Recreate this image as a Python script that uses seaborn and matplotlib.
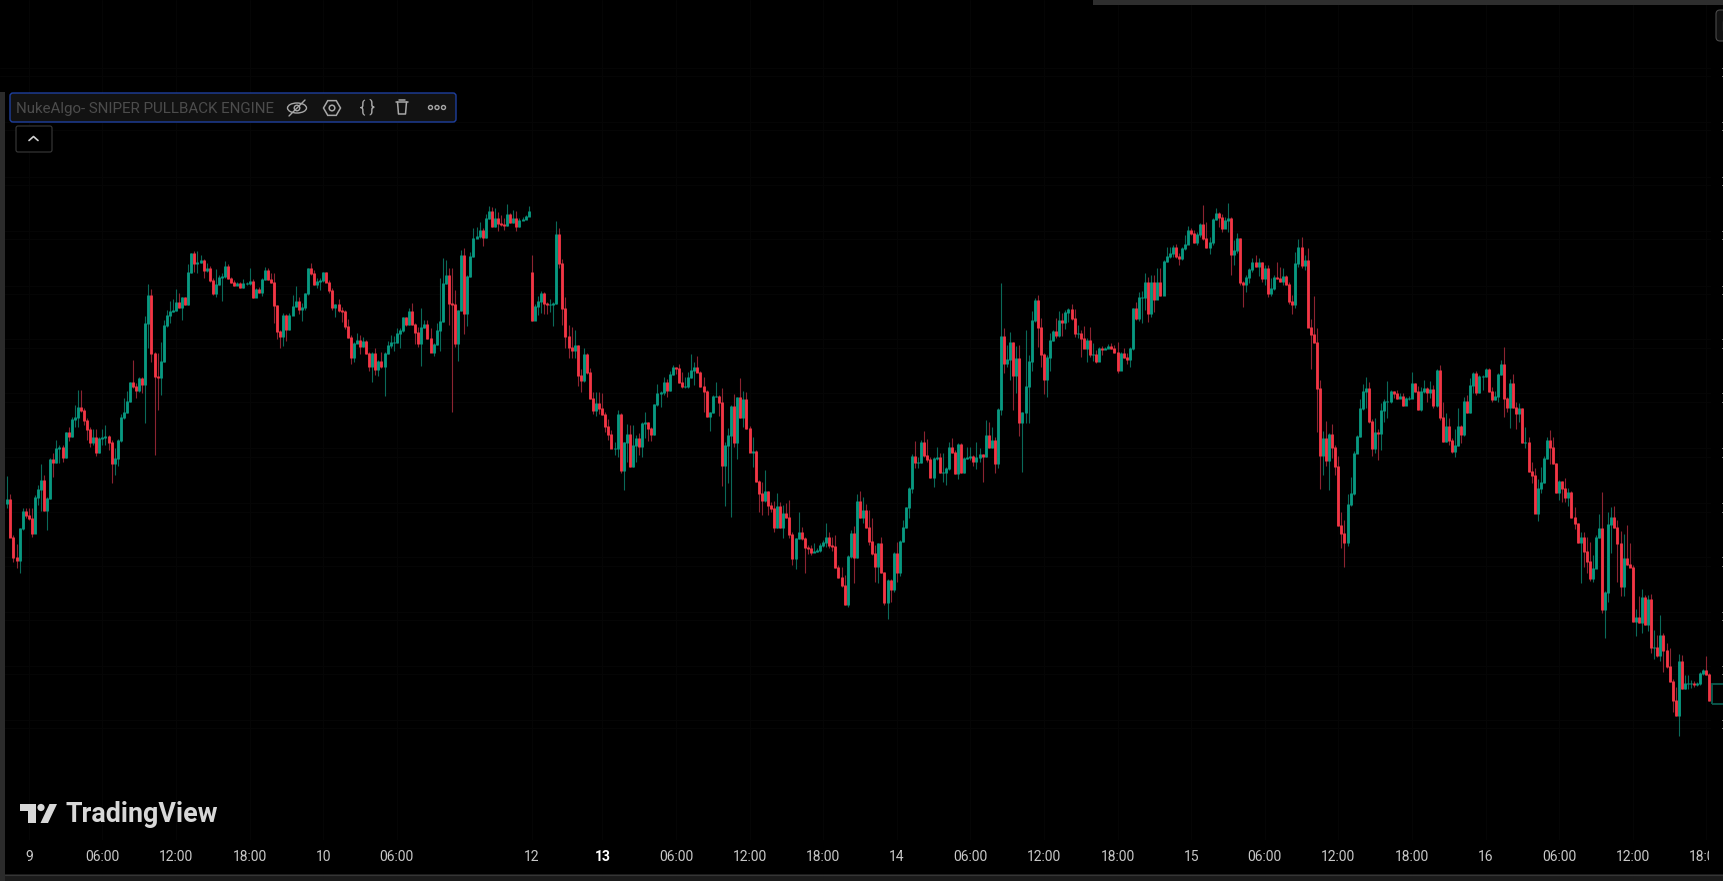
import numpy as np
import pandas as pd
import matplotlib
matplotlib.use("Agg")
import matplotlib.pyplot as plt
from matplotlib.patches import Rectangle, FancyBboxPatch, Polygon, Circle, Ellipse, RegularPolygon
from matplotlib.transforms import Bbox
import seaborn as sns

# 15 minute candles, in price units of the hidden scale.
# the session break after 12 splits them in two.
open_a = 497
closes_a = [
    501,463,443,440,472,489,485,482,467,503,511,520,490,502,541,538,552,553,543,568,564,581,583,593,
    590,580,571,558,563,548,562,563,564,558,537,542,560,583,588,599,618,614,610,622,616,677,705,647,
    624,623,639,675,685,689,690,698,693,703,696,728,747,737,738,740,730,732,720,707,716,723,724,734,
    722,718,715,717,713,717,717,719,703,711,708,721,730,721,718,695,669,664,685,671,685,694,699,691,
    693,707,732,727,716,719,720,728,718,710,693,696,690,689,674,663,643,657,660,654,659,647,634,647,
    631,639,634,647,655,658,658,667,670,683,676,689,676,668,657,673,676,662,648,656,670,679,717,725,
    697,696,657,690,745,687,724,744,762,764,770,763,782,789,774,782,777,776,775,786,778,782,774,780,
    781,784,789,
]
highs_a = [
    524,506,465,456,472,492,492,492,492,505,515,536,525,503,542,547,560,555,555,568,573,583,595,610,
    610,592,582,573,571,571,563,571,575,565,560,552,561,586,602,609,618,640,617,623,623,684,716,711,
    648,647,658,680,690,699,701,711,707,703,703,736,747,749,749,745,741,737,734,722,731,725,727,739,
    736,723,720,718,718,721,718,732,721,712,713,722,733,732,727,727,695,670,687,686,687,705,714,703,
    697,707,732,737,730,722,722,728,728,720,712,696,701,693,690,681,665,658,667,665,663,660,648,648,
    652,640,648,648,659,665,664,672,672,683,683,692,697,677,673,692,680,680,672,657,677,722,742,740,
    732,732,710,690,750,752,725,748,772,773,778,772,786,794,793,792,788,785,782,796,787,790,789,782,
    783,785,794,
]
lows_a = [
    492,463,438,432,427,470,482,480,463,467,495,489,489,470,501,523,537,537,538,542,559,563,573,573,
    588,575,560,553,555,544,547,555,555,550,517,525,534,558,581,587,598,612,602,608,607,577,652,638,
    545,590,605,638,673,677,688,689,692,680,695,695,727,728,727,737,722,728,718,705,703,715,699,722,
    721,717,714,715,712,712,715,715,702,703,707,704,720,720,717,677,661,652,654,659,670,685,693,686,
    679,690,705,725,715,712,710,718,718,707,690,683,688,678,671,662,636,638,658,646,653,646,629,618,
    625,624,632,604,646,652,649,657,652,668,674,675,675,656,653,634,672,661,648,644,655,649,678,716,
    675,588,653,639,689,666,674,723,743,762,762,754,762,781,773,773,769,774,770,774,777,777,769,773,
    780,782,784,
]

open_b = 728
closes_b = [
    680,694,699,707,697,696,696,697,766,737,692,664,653,650,655,625,620,646,628,602,590,597,592,586,
    574,566,552,552,586,530,558,566,534,555,562,554,577,578,572,566,596,607,608,618,610,626,633,632,
    618,614,614,623,630,633,628,614,609,584,588,604,604,598,535,555,565,594,558,603,583,601,572,548,
    549,519,507,500,509,495,492,473,494,473,487,483,466,442,462,468,462,453,452,448,449,450,455,458,
    463,455,454,433,423,415,396,444,467,443,499,483,490,473,459,447,434,457,428,398,420,411,
    447,428,459,473,493,512,544,538,538,558,545,541,523,542,543,528,528,532,553,548,527,556,528,542,543,544,
    539,543,546,544,565,553,560,537,591,664,637,641,658,625,642,578,588,614,639,680,700,673,646,621,
    643,660,669,665,680,678,688,691,682,667,667,662,652,660,646,646,639,652,651,652,654,652,648,630,
    647,643,641,652,692,682,703,703,718,687,718,701,718,705,739,744,747,753,744,742,752,756,770,767,
    758,766,776,762,753,758,781,787,783,772,780,782,746,750,762,718,716,723,731,738,734,738,722,732,
    707,712,723,722,719,724,716,699,696,737,753,735,740,673,666,658,612,545,562,540,566,553,534,475,
    467,458,496,507,547,564,592,609,612,579,552,568,567,590,599,599,609,607,602,604,595,602,602,617,
    609,591,609,612,608,611,595,630,583,559,574,560,549,555,574,566,599,588,615,627,608,624,624,631,
    609,601,604,626,636,602,593,617,593,587,592,558,558,529,525,487,512,518,542,560,553,537,508,519,
    512,503,508,483,477,458,463,449,439,422,432,463,472,391,408,476,483,473,457,414,442,436,433,379,
    383,378,403,376,401,353,353,345,365,350,334,319,300,285,339,312,317,317,317,316,317,327,330,326,
    300,
]
highs_b = [
    745,696,704,709,708,698,701,698,779,772,741,703,675,673,670,655,631,652,647,632,608,608,608,607,
    588,581,570,558,590,587,558,576,575,575,565,567,578,588,578,573,596,616,609,623,621,629,635,633,
    636,628,623,628,646,638,644,629,623,610,588,605,618,605,612,558,572,595,606,603,622,609,608,574,
    563,550,520,518,530,508,498,499,507,498,495,497,500,468,462,488,473,463,455,455,457,452,457,460,
    477,468,463,465,435,433,425,445,470,474,506,509,503,496,490,482,455,457,463,427,421,421,
    448,458,460,480,493,513,546,559,543,560,569,561,543,543,553,547,547,533,558,562,550,557,557,543,553,553,
    545,558,552,546,580,578,573,563,592,717,672,655,668,652,654,655,588,670,645,689,702,705,682,647,
    645,667,670,682,689,687,690,692,696,691,675,670,674,662,673,657,650,653,654,653,656,657,655,658,
    648,652,647,653,692,698,708,709,727,723,725,725,732,732,740,753,753,755,756,747,753,765,774,772,
    770,768,777,795,778,763,782,792,788,786,783,797,783,760,767,762,719,725,732,742,745,742,737,735,
    735,722,725,738,733,732,725,718,705,748,761,763,745,752,681,704,672,620,569,579,567,576,555,544,
    488,480,506,523,549,565,601,616,623,618,581,582,571,597,601,619,610,609,610,607,607,603,604,628,
    617,614,613,620,613,619,615,631,635,598,587,582,562,571,592,575,603,605,622,628,629,625,625,632,
    632,613,609,627,640,653,603,621,626,598,597,592,573,563,538,532,521,533,544,563,570,563,537,520,
    518,522,512,509,493,477,468,468,463,458,445,465,486,508,409,488,493,494,480,469,466,475,457,435,
    391,404,411,405,405,406,370,365,385,367,357,352,321,313,346,345,325,325,320,319,318,328,331,344,
    327,
]
lows_b = [
    679,681,685,687,686,686,688,674,696,732,675,652,642,642,642,614,608,618,626,601,586,584,586,585,
    568,560,552,545,543,527,510,538,533,533,538,545,543,562,559,559,565,594,593,605,603,609,625,626,
    617,612,612,612,622,615,628,613,588,583,569,587,603,584,514,494,517,483,553,541,582,573,571,548,
    533,518,488,485,498,485,488,468,472,472,462,482,462,435,431,461,460,427,446,445,448,448,448,453,
    453,452,449,432,422,413,395,393,442,417,442,482,477,472,455,445,418,417,427,395,381,398,
    408,418,424,458,472,482,507,532,532,537,543,538,522,513,540,527,518,515,530,547,526,521,527,527,541,540,
    534,531,538,518,543,552,552,527,532,585,627,633,620,590,607,564,528,577,577,629,678,653,633,606,
    603,629,659,662,663,664,671,678,680,663,662,643,652,638,643,639,637,639,645,651,652,651,647,627,
    630,642,636,633,650,680,679,677,690,678,683,688,701,704,705,738,742,743,742,735,740,750,756,765,
    757,755,763,760,752,746,755,780,773,768,772,768,725,735,747,715,693,708,717,728,733,724,718,715,
    703,704,710,721,718,715,715,696,686,692,733,732,730,673,631,657,568,511,525,534,510,542,525,474,
    452,433,454,494,505,547,563,590,592,577,544,547,540,550,578,582,597,602,601,602,594,596,600,603,
    608,590,589,607,598,602,592,593,580,558,558,555,547,543,554,557,564,587,587,607,605,607,610,623,
    608,598,600,598,625,583,588,572,592,571,578,557,552,528,517,487,479,507,517,541,536,536,507,500,
    498,498,494,482,471,457,417,433,427,419,418,432,462,387,362,398,447,472,418,404,404,435,433,378,
    364,377,367,375,369,347,341,343,339,328,332,318,288,284,264,311,311,311,312,313,314,315,325,325,
    299,
]

# time axis
tick_bars = [7, 31, 55, 79, 103, 127, 171, 194, 218, 242, 266, 290, 314, 338, 362, 386, 410, 434, 458, 482, 506, 530, 554]
tick_labels = ["9", "06:00", "12:00", "18:00", "10", "06:00", "12", "13", "06:00", "12:00", "18:00", "14",
               "06:00", "12:00", "18:00", "15", "06:00", "12:00", "18:00", "16", "06:00", "12:00", "18:00"]

# the cut off price scale at the right edge only shows its little marks
scale_prices = [932, 924, 878, 870, 823, 815, 769, 761, 714, 706, 661, 652, 607, 598, 552, 543,
                497, 488, 443, 434, 388, 380, 334, 326, 280, 272]
last_price = 306

# colours
up_body, down_body = "#089981", "#F23645"
up_wick, down_wick = "#0a6a5a", "#8c2431"
grid_colour = "#060606"

sns.set_theme(style="dark", rc={"axes.facecolor": "black", "figure.facecolor": "black", "axes.grid": False})
plt.rcParams["font.family"] = ["Roboto", "DejaVu Sans"]

closes = np.array(closes_a + closes_b, dtype=float)
opens = np.array([open_a] + closes_a[:-1] + [open_b] + closes_b[:-1], dtype=float)
highs = np.maximum(np.array(highs_a + highs_b, dtype=float), np.maximum(opens, closes))
lows = np.minimum(np.array(lows_a + lows_b, dtype=float), np.minimum(opens, closes))

df = pd.DataFrame({"bar": np.arange(len(closes)), "open": opens, "high": highs, "low": lows, "close": closes})
df["side"] = np.where(df["close"] >= df["open"], "up", "down")
df["body_top"] = df[["open", "close"]].max(axis=1) + 0.5
df["body_bot"] = df[["open", "close"]].min(axis=1) - 0.5

wicks = df.melt(id_vars=["bar", "side"], value_vars=["low", "high"], value_name="price")
bodies = df.melt(id_vars=["bar", "side"], value_vars=["body_bot", "body_top"], value_name="price")

W, H = 1724, 881
fig = plt.figure(figsize=(W / 100, H / 100), dpi=100)

# chart area is 1711 px wide and stops at y=840, time labels sit under it
ax = fig.add_axes([0, (H - 840) / H, 1711 / W, 840 / H])
ax.set_axisbelow(True)
sns.lineplot(data=wicks, x="bar", y="price", hue="side", units="bar", estimator=None, sort=False,
             palette={"up": up_wick, "down": down_wick}, linewidth=0.8, legend=False, ax=ax,
             solid_capstyle="butt")
sns.lineplot(data=bodies, x="bar", y="price", hue="side", units="bar", estimator=None, sort=False,
             palette={"up": up_body, "down": down_body}, linewidth=2.05, legend=False, ax=ax,
             solid_capstyle="butt")
ax.set_xlim(-2.38, 555.5)
ax.set_ylim(160, 1000)
ax.set_xlabel("")
ax.set_ylabel("")
ax.set_yticks(scale_prices[::2])
ax.set_xticks(tick_bars)
ax.set_xticklabels(tick_labels)
ax.tick_params(axis="x", length=0, pad=7.5, labelsize=10, labelcolor="#c8c8c8")
ax.tick_params(axis="y", length=0, labelleft=False)
ax.grid(True, color=grid_colour, linewidth=0.7)
for side in ax.spines.values():
    side.set_visible(False)
for lab in ax.get_xticklabels():
    lab.set_clip_box(Bbox([[0, 0], [1709, H]]))
    lab.set_clip_on(True)
    if lab.get_text() == "13":
        lab.set_color("white")
        lab.set_fontweight("bold")

# the leftover bit of the price scale
scale = fig.add_axes([1711 / W, (H - 840) / H, 13 / W, 840 / H], sharey=ax)
scale.set_facecolor("black")
scale.set_xlim(0, 1)
scale.set_xticks([])
scale.set_yticks(scale_prices)
scale.tick_params(axis="y", right=True, left=False, labelleft=False, labelright=False, direction="in",
                  length=1.4, width=0.7, color="#e0e0e0")
for side in scale.spines.values():
    side.set_visible(False)
scale.add_patch(Rectangle((0.08, last_price - 10), 1.2, 20.5, fill=False, edgecolor="#0a5a4e", linewidth=1.3))

# window chrome drawn in pixel coordinates
ui = fig.add_axes([0, 0, 1, 1], zorder=10)
ui.set_xlim(0, W)
ui.set_ylim(H, 0)
ui.axis("off")
ui.patch.set_alpha(0)

ui.add_patch(Rectangle((0, 92), 5, H - 92, color="#2b2b2b", lw=0))
ui.add_patch(Rectangle((1093, 0), W - 1093, 5, color="#2e2e2e", lw=0))
ui.add_patch(Rectangle((5, 874), W - 5, 7, color="#1b1b1b", lw=0))
ui.plot([5, W], [874.5, 874.5], color="#363636", lw=0.8)
ui.add_patch(FancyBboxPatch((1719, 13), 20, 25, boxstyle="round,pad=3,rounding_size=4", fc="#111111", ec="#4a4a4a", lw=0.8))
ui.plot([1723, 1723], [21, 30], color="#c8c8c8", lw=0.8)

# indicator legend
ui.add_patch(FancyBboxPatch((13, 96), 440, 23, boxstyle="round,pad=3,rounding_size=3", fc="#121212", ec="#1e3f9e", lw=1.0))
ui.text(16, 108.5, "NukeAlgo- SNIPER PULLBACK ENGINE", color="#4c4c4c", fontsize=10.9, va="center", ha="left")

icon = "#a8a8a8"
# eye with a stroke through it
ui.add_patch(Ellipse((297, 108), 19, 10, fill=False, ec=icon, lw=1.0))
ui.add_patch(Circle((297, 108), 2.8, fill=False, ec=icon, lw=1.0))
ui.plot([289, 305], [116, 100], color=icon, lw=1.0)
# settings
ui.add_patch(RegularPolygon((332, 108), 6, radius=8.5, orientation=np.pi / 2, fill=False, ec=icon, lw=1.1))
ui.add_patch(Circle((332, 108), 2.8, fill=False, ec=icon, lw=1.1))
# source code
ui.text(367, 107, "{ }", color=icon, fontsize=11.5, ha="center", va="center")
# trash
ui.plot([396, 408], [102, 102], color=icon, lw=1.1)
ui.plot([399, 405], [100, 100], color=icon, lw=1.1)
ui.plot([397.5, 398.5, 405.5, 406.5], [102, 114, 114, 102], color=icon, lw=1.1)
# more
for cx in (430.5, 437, 443.5):
    ui.add_patch(Circle((cx, 107.5), 2, fill=False, ec=icon, lw=1.0))

# collapse button
ui.add_patch(FancyBboxPatch((18, 128), 32, 22, boxstyle="round,pad=2,rounding_size=2", fc="black", ec="#3a3a3a", lw=0.8))
ui.plot([29, 33.5, 38], [140.5, 136.5, 140.5], color="#d0d0d0", lw=1.2)

# TradingView watermark
logo = "#d8d8d8"
ui.add_patch(Polygon([(20, 804), (36, 804), (36, 823), (28, 823), (28, 811), (20, 811)], color=logo, lw=0))
ui.add_patch(Circle((41, 807.5), 3.6, color=logo, lw=0))
ui.add_patch(Polygon([(49.5, 804), (57, 804), (48, 823), (40.5, 823)], color=logo, lw=0))
ui.text(65.5, 814, "TradingView", color=logo, fontsize=19.4, fontweight="bold", va="center", ha="left")

fig.savefig("out.png", dpi=100, facecolor="black")
